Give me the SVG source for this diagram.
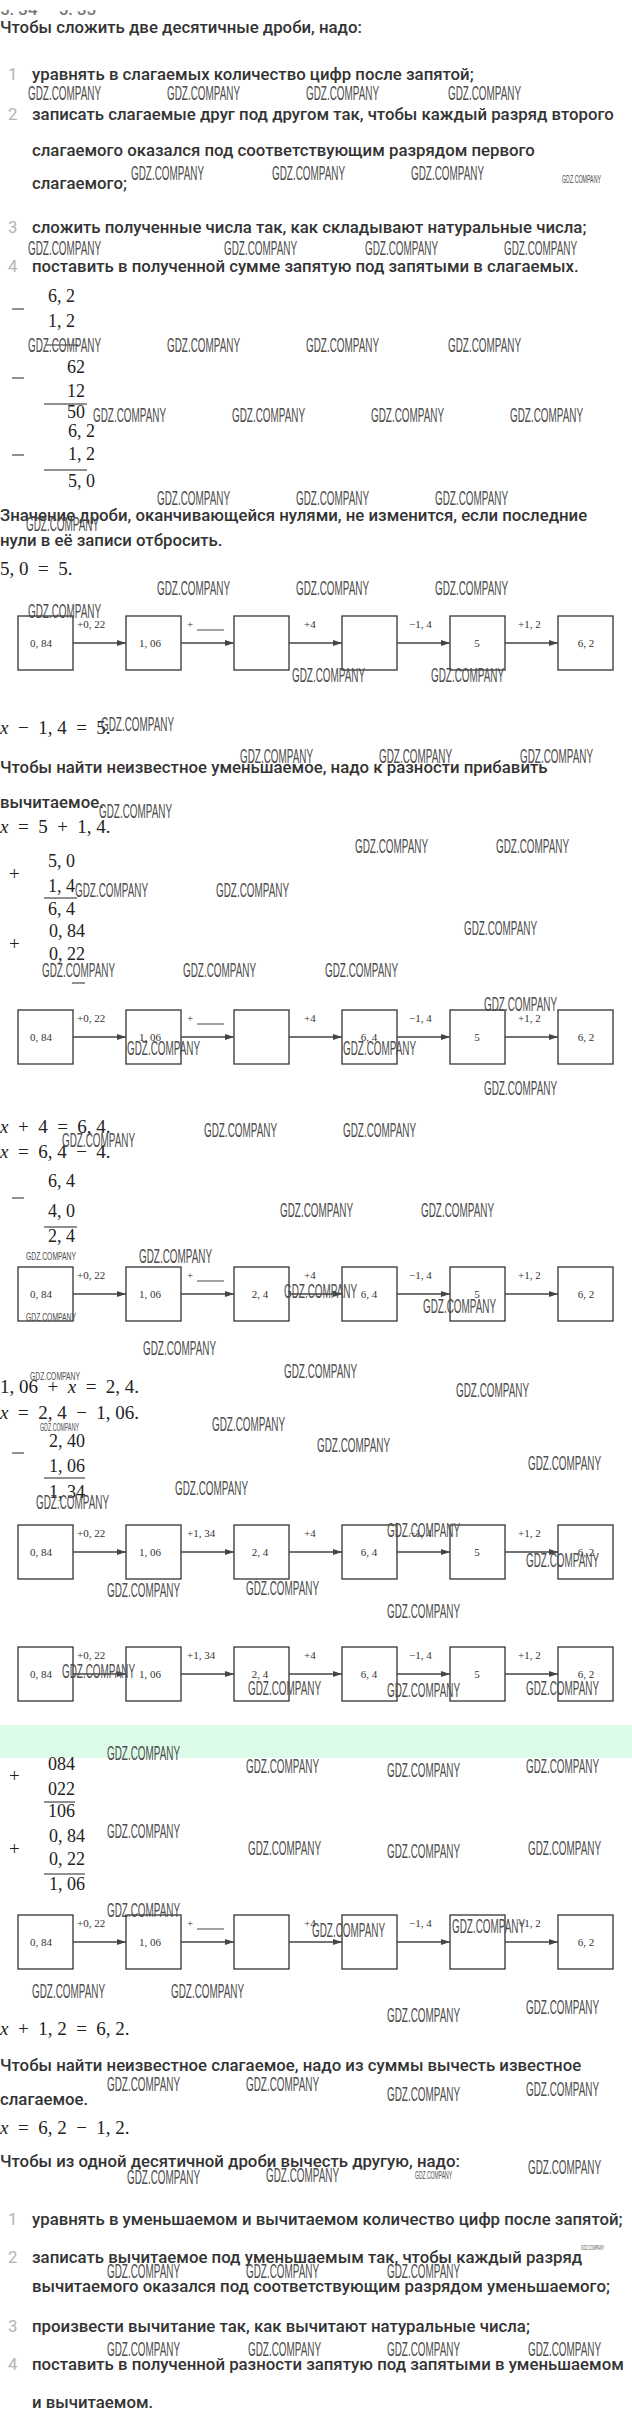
<svg xmlns="http://www.w3.org/2000/svg" width="632" height="2425" viewBox="0 0 632 2425">
<style>
.t{font-family:Roboto,"Liberation Sans",sans-serif;font-size:16.8px;font-weight:500;fill:#333}
.n{font-family:Roboto,"Liberation Sans",sans-serif;font-size:16.8px;fill:#b3b3b3}
.m{font-family:"Liberation Serif",serif;font-size:19px;fill:#222}
.mi{font-style:italic}
.c{font-family:"Liberation Serif",serif;font-size:18px;fill:#222;text-anchor:end}
.wm{font-family:"Liberation Sans Narrow","Liberation Sans",sans-serif;font-size:20px;fill:#4d4d4d}
.wms{font-family:"Liberation Sans Narrow","Liberation Sans",sans-serif;font-size:10px;fill:#4d4d4d}
.box{fill:#fff;stroke:#333;stroke-width:1.3}
.nt{font-family:"Liberation Serif",serif;font-size:11px;fill:#333;text-anchor:middle}
.el{font-family:"Liberation Serif",serif;font-size:11px;fill:#333}
.ar{stroke:#444;stroke-width:1.3;fill:none;marker-end:url(#ah)}
.bar{stroke:#222;stroke-width:1}
.ul{stroke:#333;stroke-width:0.9}
</style>
<defs>
<marker id="ah" markerWidth="9" markerHeight="6" refX="9" refY="3" orient="auto" markerUnits="userSpaceOnUse"><path d="M0,0 L9,3 L0,6 z" fill="#444"/></marker>
<clipPath id="topclip"><rect x="0" y="10" width="200" height="8"/></clipPath>
</defs>
<rect x="0" y="0" width="632" height="2425" fill="#fff"/>
<rect x="0" y="1725" width="632" height="33" fill="#dcfce9"/>

<g id="text">
<text class="t" x="0" y="15" clip-path="url(#topclip)" style="fill:#777">5. 34 — 5. 33</text>
<text class="t" x="0" y="33">Чтобы сложить две десятичные дроби, надо:</text>
<text class="n" x="8" y="80">1</text><text class="t" x="32" y="80">уравнять в слагаемых количество цифр после запятой;</text>
<text class="n" x="8" y="120">2</text><text class="t" x="32" y="120">записать слагаемые друг под другом так, чтобы каждый разряд второго</text>
<text class="t" x="32" y="156">слагаемого оказался под соответствующим разрядом первого</text>
<text class="t" x="32" y="189">слагаемого;</text>
<text class="n" x="8" y="233">3</text><text class="t" x="32" y="233">сложить полученные числа так, как складывают натуральные числа;</text>
<text class="n" x="8" y="272">4</text><text class="t" x="32" y="272">поставить в полученной сумме запятую под запятыми в слагаемых.</text>
<text class="t" x="0" y="521">Значение дроби, оканчивающейся нулями, не изменится, если последние</text>
<text class="t" x="0" y="546">нули в её записи отбросить.</text>
<text class="t" x="0" y="773">Чтобы найти неизвестное уменьшаемое, надо к разности прибавить</text>
<text class="t" x="0" y="808">вычитаемое.</text>
<text class="t" x="0" y="2071">Чтобы найти неизвестное слагаемое, надо из суммы вычесть известное</text>
<text class="t" x="0" y="2105">слагаемое.</text>
<text class="t" x="0" y="2167">Чтобы из одной десятичной дроби вычесть другую, надо:</text>
<text class="n" x="8" y="2225">1</text><text class="t" x="32" y="2225">уравнять в уменьшаемом и вычитаемом количество цифр после запятой;</text>
<text class="n" x="8" y="2263">2</text><text class="t" x="32" y="2263">записать вычитаемое под уменьшаемым так, чтобы каждый разряд</text>
<text class="t" x="32" y="2292">вычитаемого оказался под соответствующим разрядом уменьшаемого;</text>
<text class="n" x="8" y="2332">3</text><text class="t" x="32" y="2332">произвести вычитание так, как вычитают натуральные числа;</text>
<text class="n" x="8" y="2370">4</text><text class="t" x="32" y="2370">поставить в полученной разности запятую под запятыми в уменьшаемом</text>
<text class="t" x="32" y="2408">и вычитаемом.</text>
</g>

<g id="equations">
<text class="m" x="0" y="575">5, 0&#8194;=&#8194;5.</text>
<text class="m" x="0" y="734"><tspan class="mi">x</tspan>&#8194;−&#8194;1, 4&#8194;=&#8194;5.</text>
<text class="m" x="0" y="833"><tspan class="mi">x</tspan>&#8194;=&#8194;5&#8194;+&#8194;1, 4.</text>
<text class="m" x="0" y="1133"><tspan class="mi">x</tspan>&#8194;+&#8194;4&#8194;=&#8194;6, 4.</text>
<text class="m" x="0" y="1158"><tspan class="mi">x</tspan>&#8194;=&#8194;6, 4&#8194;−&#8194;4.</text>
<text class="m" x="0" y="1393">1, 06&#8194;+&#8194;<tspan class="mi">x</tspan>&#8194;=&#8194;2, 4.</text>
<text class="m" x="0" y="1419"><tspan class="mi">x</tspan>&#8194;=&#8194;2, 4&#8194;−&#8194;1, 06.</text>
<text class="m" x="0" y="2035"><tspan class="mi">x</tspan>&#8194;+&#8194;1, 2&#8194;=&#8194;6, 2.</text>
<text class="m" x="0" y="2134"><tspan class="mi">x</tspan>&#8194;=&#8194;6, 2&#8194;−&#8194;1, 2.</text>
</g>

<g id="columns">
<text class="c" x="75" y="302">6, 2</text><line class="bar" x1="12" y1="309" x2="24" y2="309"/><text class="c" x="75" y="327">1, 2</text><line class="bar" x1="46" y1="345" x2="78" y2="345"/>
<text class="c" x="85" y="373">62</text><line class="bar" x1="12" y1="378" x2="24" y2="378"/><text class="c" x="85" y="397">12</text><line class="bar" x1="44" y1="404" x2="87" y2="404"/><text class="c" x="85" y="418">50</text>
<text class="c" x="95" y="437">6, 2</text><line class="bar" x1="12" y1="455" x2="24" y2="455"/><text class="c" x="95" y="460">1, 2</text><line class="bar" x1="44" y1="470" x2="87" y2="470"/><text class="c" x="95" y="487">5, 0</text>
<text class="c" x="75" y="867">5, 0</text><text class="m" x="9" y="880">+</text><text class="c" x="75" y="892">1, 4</text><line class="bar" x1="44" y1="898" x2="77" y2="898"/><text class="c" x="75" y="915">6, 4</text>
<text class="c" x="85" y="937">0, 84</text><text class="m" x="9" y="950">+</text><text class="c" x="85" y="960">0, 22</text><line class="bar" x1="72" y1="983" x2="85" y2="983"/>
<text class="c" x="75" y="1187">6, 4</text><line class="bar" x1="12" y1="1198" x2="24" y2="1198"/><text class="c" x="75" y="1217">4, 0</text><line class="bar" x1="44" y1="1227" x2="77" y2="1227"/><text class="c" x="75" y="1242">2, 4</text>
<text class="c" x="85" y="1447">2, 40</text><line class="bar" x1="12" y1="1453" x2="24" y2="1453"/><text class="c" x="85" y="1472">1, 06</text><line class="bar" x1="44" y1="1478" x2="85" y2="1478"/><text class="c" x="85" y="1498">1, 34</text>
<text class="c" x="75" y="1770">084</text><text class="m" x="9" y="1782">+</text><text class="c" x="75" y="1795">022</text><line class="bar" x1="44" y1="1802" x2="75" y2="1802"/><text class="c" x="75" y="1817">106</text>
<text class="c" x="85" y="1842">0, 84</text><text class="m" x="9" y="1855">+</text><text class="c" x="85" y="1865">0, 22</text><line class="bar" x1="44" y1="1874" x2="85" y2="1874"/><text class="c" x="85" y="1890">1, 06</text>
</g>

<g id="d1">
<g id="d1-n1"><rect class="box" x="18" y="616" width="55" height="54"/><text class="nt" x="41" y="647">0, 84</text></g>
<g id="d1-n2"><rect class="box" x="126" y="616" width="55" height="54"/><text class="nt" x="150" y="647">1, 06</text></g>
<g id="d1-n3"><rect class="box" x="234" y="616" width="55" height="54"/></g>
<g id="d1-n4"><rect class="box" x="342" y="616" width="55" height="54"/></g>
<g id="d1-n5"><rect class="box" x="450" y="616" width="55" height="54"/><text class="nt" x="477" y="647">5</text></g>
<g id="d1-n6"><rect class="box" x="558" y="616" width="55" height="54"/><text class="nt" x="586" y="647">6, 2</text></g>
<g id="d1-edges">
<line class="ar" x1="73" y1="643" x2="126" y2="643"/><line class="ar" x1="181" y1="643" x2="234" y2="643"/><line class="ar" x1="289" y1="643" x2="342" y2="643"/><line class="ar" x1="397" y1="643" x2="450" y2="643"/><line class="ar" x1="505" y1="643" x2="558" y2="643"/>
<text class="el" x="77" y="628">+0, 22</text><text class="el" x="187" y="628">+</text><line class="ul" x1="197" y1="630" x2="224" y2="630"/><text class="el" x="304" y="628">+4</text><text class="el" x="409" y="628">−1, 4</text><text class="el" x="518" y="628">+1, 2</text>
</g>
</g>

<g id="d2">
<g id="d2-n1"><rect class="box" x="18" y="1010" width="55" height="54"/><text class="nt" x="41" y="1041">0, 84</text></g>
<g id="d2-n2"><rect class="box" x="126" y="1010" width="55" height="54"/><text class="nt" x="150" y="1041">1, 06</text></g>
<g id="d2-n3"><rect class="box" x="234" y="1010" width="55" height="54"/></g>
<g id="d2-n4"><rect class="box" x="342" y="1010" width="55" height="54"/><text class="nt" x="369" y="1041">6, 4</text></g>
<g id="d2-n5"><rect class="box" x="450" y="1010" width="55" height="54"/><text class="nt" x="477" y="1041">5</text></g>
<g id="d2-n6"><rect class="box" x="558" y="1010" width="55" height="54"/><text class="nt" x="586" y="1041">6, 2</text></g>
<g id="d2-edges">
<line class="ar" x1="73" y1="1037" x2="126" y2="1037"/><line class="ar" x1="181" y1="1037" x2="234" y2="1037"/><line class="ar" x1="289" y1="1037" x2="342" y2="1037"/><line class="ar" x1="397" y1="1037" x2="450" y2="1037"/><line class="ar" x1="505" y1="1037" x2="558" y2="1037"/>
<text class="el" x="77" y="1022">+0, 22</text><text class="el" x="187" y="1022">+</text><line class="ul" x1="197" y1="1024" x2="224" y2="1024"/><text class="el" x="304" y="1022">+4</text><text class="el" x="409" y="1022">−1, 4</text><text class="el" x="518" y="1022">+1, 2</text>
</g>
</g>

<g id="d3">
<g id="d3-n1"><rect class="box" x="18" y="1267" width="55" height="54"/><text class="nt" x="41" y="1298">0, 84</text></g>
<g id="d3-n2"><rect class="box" x="126" y="1267" width="55" height="54"/><text class="nt" x="150" y="1298">1, 06</text></g>
<g id="d3-n3"><rect class="box" x="234" y="1267" width="55" height="54"/><text class="nt" x="260" y="1298">2, 4</text></g>
<g id="d3-n4"><rect class="box" x="342" y="1267" width="55" height="54"/><text class="nt" x="369" y="1298">6, 4</text></g>
<g id="d3-n5"><rect class="box" x="450" y="1267" width="55" height="54"/><text class="nt" x="477" y="1298">5</text></g>
<g id="d3-n6"><rect class="box" x="558" y="1267" width="55" height="54"/><text class="nt" x="586" y="1298">6, 2</text></g>
<g id="d3-edges">
<line class="ar" x1="73" y1="1294" x2="126" y2="1294"/><line class="ar" x1="181" y1="1294" x2="234" y2="1294"/><line class="ar" x1="289" y1="1294" x2="342" y2="1294"/><line class="ar" x1="397" y1="1294" x2="450" y2="1294"/><line class="ar" x1="505" y1="1294" x2="558" y2="1294"/>
<text class="el" x="77" y="1279">+0, 22</text><text class="el" x="187" y="1279">+</text><line class="ul" x1="197" y1="1281" x2="224" y2="1281"/><text class="el" x="304" y="1279">+4</text><text class="el" x="409" y="1279">−1, 4</text><text class="el" x="518" y="1279">+1, 2</text>
</g>
</g>

<g id="d4">
<g id="d4-n1"><rect class="box" x="18" y="1525" width="55" height="54"/><text class="nt" x="41" y="1556">0, 84</text></g>
<g id="d4-n2"><rect class="box" x="126" y="1525" width="55" height="54"/><text class="nt" x="150" y="1556">1, 06</text></g>
<g id="d4-n3"><rect class="box" x="234" y="1525" width="55" height="54"/><text class="nt" x="260" y="1556">2, 4</text></g>
<g id="d4-n4"><rect class="box" x="342" y="1525" width="55" height="54"/><text class="nt" x="369" y="1556">6, 4</text></g>
<g id="d4-n5"><rect class="box" x="450" y="1525" width="55" height="54"/><text class="nt" x="477" y="1556">5</text></g>
<g id="d4-n6"><rect class="box" x="558" y="1525" width="55" height="54"/><text class="nt" x="586" y="1556">6, 2</text></g>
<g id="d4-edges">
<line class="ar" x1="73" y1="1552" x2="126" y2="1552"/><line class="ar" x1="181" y1="1552" x2="234" y2="1552"/><line class="ar" x1="289" y1="1552" x2="342" y2="1552"/><line class="ar" x1="397" y1="1552" x2="450" y2="1552"/><line class="ar" x1="505" y1="1552" x2="558" y2="1552"/>
<text class="el" x="77" y="1537">+0, 22</text><text class="el" x="187" y="1537">+1, 34</text><text class="el" x="304" y="1537">+4</text><text class="el" x="409" y="1537">−1, 4</text><text class="el" x="518" y="1537">+1, 2</text>
</g>
</g>

<g id="d5">
<g id="d5-n1"><rect class="box" x="18" y="1647" width="55" height="54"/><text class="nt" x="41" y="1678">0, 84</text></g>
<g id="d5-n2"><rect class="box" x="126" y="1647" width="55" height="54"/><text class="nt" x="150" y="1678">1, 06</text></g>
<g id="d5-n3"><rect class="box" x="234" y="1647" width="55" height="54"/><text class="nt" x="260" y="1678">2, 4</text></g>
<g id="d5-n4"><rect class="box" x="342" y="1647" width="55" height="54"/><text class="nt" x="369" y="1678">6, 4</text></g>
<g id="d5-n5"><rect class="box" x="450" y="1647" width="55" height="54"/><text class="nt" x="477" y="1678">5</text></g>
<g id="d5-n6"><rect class="box" x="558" y="1647" width="55" height="54"/><text class="nt" x="586" y="1678">6, 2</text></g>
<g id="d5-edges">
<line class="ar" x1="73" y1="1674" x2="126" y2="1674"/><line class="ar" x1="181" y1="1674" x2="234" y2="1674"/><line class="ar" x1="289" y1="1674" x2="342" y2="1674"/><line class="ar" x1="397" y1="1674" x2="450" y2="1674"/><line class="ar" x1="505" y1="1674" x2="558" y2="1674"/>
<text class="el" x="77" y="1659">+0, 22</text><text class="el" x="187" y="1659">+1, 34</text><text class="el" x="304" y="1659">+4</text><text class="el" x="409" y="1659">−1, 4</text><text class="el" x="518" y="1659">+1, 2</text>
</g>
</g>

<g id="d6">
<g id="d6-n1"><rect class="box" x="18" y="1915" width="55" height="54"/><text class="nt" x="41" y="1946">0, 84</text></g>
<g id="d6-n2"><rect class="box" x="126" y="1915" width="55" height="54"/><text class="nt" x="150" y="1946">1, 06</text></g>
<g id="d6-n3"><rect class="box" x="234" y="1915" width="55" height="54"/></g>
<g id="d6-n4"><rect class="box" x="342" y="1915" width="55" height="54"/></g>
<g id="d6-n5"><rect class="box" x="450" y="1915" width="55" height="54"/></g>
<g id="d6-n6"><rect class="box" x="558" y="1915" width="55" height="54"/><text class="nt" x="586" y="1946">6, 2</text></g>
<g id="d6-edges">
<line class="ar" x1="73" y1="1942" x2="126" y2="1942"/><line class="ar" x1="181" y1="1942" x2="234" y2="1942"/><line class="ar" x1="289" y1="1942" x2="342" y2="1942"/><line class="ar" x1="397" y1="1942" x2="450" y2="1942"/><line class="ar" x1="505" y1="1942" x2="558" y2="1942"/>
<text class="el" x="77" y="1927">+0, 22</text><text class="el" x="187" y="1927">+</text><line class="ul" x1="197" y1="1929" x2="224" y2="1929"/><text class="el" x="304" y="1927">+4</text><text class="el" x="409" y="1927">−1, 4</text><text class="el" x="518" y="1927">+1, 2</text>
</g>
</g>

<g id="watermarks">
<text class="wm" x="28" y="100" textLength="73" lengthAdjust="spacingAndGlyphs">GDZ.COMPANY</text>
<text class="wm" x="167" y="100" textLength="73" lengthAdjust="spacingAndGlyphs">GDZ.COMPANY</text>
<text class="wm" x="306" y="100" textLength="73" lengthAdjust="spacingAndGlyphs">GDZ.COMPANY</text>
<text class="wm" x="448" y="100" textLength="73" lengthAdjust="spacingAndGlyphs">GDZ.COMPANY</text>
<text class="wm" x="131" y="180" textLength="73" lengthAdjust="spacingAndGlyphs">GDZ.COMPANY</text>
<text class="wm" x="272" y="180" textLength="73" lengthAdjust="spacingAndGlyphs">GDZ.COMPANY</text>
<text class="wm" x="411" y="180" textLength="73" lengthAdjust="spacingAndGlyphs">GDZ.COMPANY</text>
<text class="wms" x="562" y="183" textLength="39" lengthAdjust="spacingAndGlyphs">GDZ.COMPANY</text>
<text class="wm" x="28" y="255" textLength="73" lengthAdjust="spacingAndGlyphs">GDZ.COMPANY</text>
<text class="wm" x="224" y="255" textLength="73" lengthAdjust="spacingAndGlyphs">GDZ.COMPANY</text>
<text class="wm" x="365" y="255" textLength="73" lengthAdjust="spacingAndGlyphs">GDZ.COMPANY</text>
<text class="wm" x="504" y="255" textLength="73" lengthAdjust="spacingAndGlyphs">GDZ.COMPANY</text>
<text class="wm" x="28" y="352" textLength="73" lengthAdjust="spacingAndGlyphs">GDZ.COMPANY</text>
<text class="wm" x="167" y="352" textLength="73" lengthAdjust="spacingAndGlyphs">GDZ.COMPANY</text>
<text class="wm" x="306" y="352" textLength="73" lengthAdjust="spacingAndGlyphs">GDZ.COMPANY</text>
<text class="wm" x="448" y="352" textLength="73" lengthAdjust="spacingAndGlyphs">GDZ.COMPANY</text>
<text class="wm" x="93" y="422" textLength="73" lengthAdjust="spacingAndGlyphs">GDZ.COMPANY</text>
<text class="wm" x="232" y="422" textLength="73" lengthAdjust="spacingAndGlyphs">GDZ.COMPANY</text>
<text class="wm" x="371" y="422" textLength="73" lengthAdjust="spacingAndGlyphs">GDZ.COMPANY</text>
<text class="wm" x="510" y="422" textLength="73" lengthAdjust="spacingAndGlyphs">GDZ.COMPANY</text>
<text class="wm" x="157" y="505" textLength="73" lengthAdjust="spacingAndGlyphs">GDZ.COMPANY</text>
<text class="wm" x="296" y="505" textLength="73" lengthAdjust="spacingAndGlyphs">GDZ.COMPANY</text>
<text class="wm" x="435" y="505" textLength="73" lengthAdjust="spacingAndGlyphs">GDZ.COMPANY</text>
<text class="wm" x="26" y="531" textLength="73" lengthAdjust="spacingAndGlyphs">GDZ.COMPANY</text>
<text class="wm" x="157" y="595" textLength="73" lengthAdjust="spacingAndGlyphs">GDZ.COMPANY</text>
<text class="wm" x="296" y="595" textLength="73" lengthAdjust="spacingAndGlyphs">GDZ.COMPANY</text>
<text class="wm" x="435" y="595" textLength="73" lengthAdjust="spacingAndGlyphs">GDZ.COMPANY</text>
<text class="wm" x="28" y="618" textLength="73" lengthAdjust="spacingAndGlyphs">GDZ.COMPANY</text>
<text class="wm" x="292" y="682" textLength="73" lengthAdjust="spacingAndGlyphs">GDZ.COMPANY</text>
<text class="wm" x="431" y="682" textLength="73" lengthAdjust="spacingAndGlyphs">GDZ.COMPANY</text>
<text class="wm" x="101" y="731" textLength="73" lengthAdjust="spacingAndGlyphs">GDZ.COMPANY</text>
<text class="wm" x="240" y="763" textLength="73" lengthAdjust="spacingAndGlyphs">GDZ.COMPANY</text>
<text class="wm" x="379" y="763" textLength="73" lengthAdjust="spacingAndGlyphs">GDZ.COMPANY</text>
<text class="wm" x="520" y="763" textLength="73" lengthAdjust="spacingAndGlyphs">GDZ.COMPANY</text>
<text class="wm" x="99" y="818" textLength="73" lengthAdjust="spacingAndGlyphs">GDZ.COMPANY</text>
<text class="wm" x="355" y="853" textLength="73" lengthAdjust="spacingAndGlyphs">GDZ.COMPANY</text>
<text class="wm" x="496" y="853" textLength="73" lengthAdjust="spacingAndGlyphs">GDZ.COMPANY</text>
<text class="wm" x="75" y="897" textLength="73" lengthAdjust="spacingAndGlyphs">GDZ.COMPANY</text>
<text class="wm" x="216" y="897" textLength="73" lengthAdjust="spacingAndGlyphs">GDZ.COMPANY</text>
<text class="wm" x="464" y="935" textLength="73" lengthAdjust="spacingAndGlyphs">GDZ.COMPANY</text>
<text class="wm" x="42" y="977" textLength="73" lengthAdjust="spacingAndGlyphs">GDZ.COMPANY</text>
<text class="wm" x="183" y="977" textLength="73" lengthAdjust="spacingAndGlyphs">GDZ.COMPANY</text>
<text class="wm" x="325" y="977" textLength="73" lengthAdjust="spacingAndGlyphs">GDZ.COMPANY</text>
<text class="wm" x="484" y="1011" textLength="73" lengthAdjust="spacingAndGlyphs">GDZ.COMPANY</text>
<text class="wm" x="127" y="1055" textLength="73" lengthAdjust="spacingAndGlyphs">GDZ.COMPANY</text>
<text class="wm" x="343" y="1055" textLength="73" lengthAdjust="spacingAndGlyphs">GDZ.COMPANY</text>
<text class="wm" x="484" y="1095" textLength="73" lengthAdjust="spacingAndGlyphs">GDZ.COMPANY</text>
<text class="wm" x="204" y="1137" textLength="73" lengthAdjust="spacingAndGlyphs">GDZ.COMPANY</text>
<text class="wm" x="343" y="1137" textLength="73" lengthAdjust="spacingAndGlyphs">GDZ.COMPANY</text>
<text class="wm" x="62" y="1147" textLength="73" lengthAdjust="spacingAndGlyphs">GDZ.COMPANY</text>
<text class="wm" x="280" y="1217" textLength="73" lengthAdjust="spacingAndGlyphs">GDZ.COMPANY</text>
<text class="wm" x="421" y="1217" textLength="73" lengthAdjust="spacingAndGlyphs">GDZ.COMPANY</text>
<text class="wms" x="26" y="1260" textLength="50" lengthAdjust="spacingAndGlyphs">GDZ.COMPANY</text>
<text class="wm" x="139" y="1263" textLength="73" lengthAdjust="spacingAndGlyphs">GDZ.COMPANY</text>
<text class="wm" x="284" y="1298" textLength="73" lengthAdjust="spacingAndGlyphs">GDZ.COMPANY</text>
<text class="wms" x="26" y="1321" textLength="50" lengthAdjust="spacingAndGlyphs">GDZ.COMPANY</text>
<text class="wm" x="423" y="1313" textLength="73" lengthAdjust="spacingAndGlyphs">GDZ.COMPANY</text>
<text class="wm" x="143" y="1355" textLength="73" lengthAdjust="spacingAndGlyphs">GDZ.COMPANY</text>
<text class="wms" x="30" y="1380" textLength="50" lengthAdjust="spacingAndGlyphs">GDZ.COMPANY</text>
<text class="wm" x="284" y="1378" textLength="73" lengthAdjust="spacingAndGlyphs">GDZ.COMPANY</text>
<text class="wm" x="456" y="1397" textLength="73" lengthAdjust="spacingAndGlyphs">GDZ.COMPANY</text>
<text class="wms" x="40" y="1431" textLength="39" lengthAdjust="spacingAndGlyphs">GDZ.COMPANY</text>
<text class="wm" x="212" y="1431" textLength="73" lengthAdjust="spacingAndGlyphs">GDZ.COMPANY</text>
<text class="wm" x="317" y="1452" textLength="73" lengthAdjust="spacingAndGlyphs">GDZ.COMPANY</text>
<text class="wm" x="528" y="1470" textLength="73" lengthAdjust="spacingAndGlyphs">GDZ.COMPANY</text>
<text class="wm" x="36" y="1509" textLength="73" lengthAdjust="spacingAndGlyphs">GDZ.COMPANY</text>
<text class="wm" x="175" y="1495" textLength="73" lengthAdjust="spacingAndGlyphs">GDZ.COMPANY</text>
<text class="wm" x="387" y="1537" textLength="73" lengthAdjust="spacingAndGlyphs">GDZ.COMPANY</text>
<text class="wm" x="526" y="1567" textLength="73" lengthAdjust="spacingAndGlyphs">GDZ.COMPANY</text>
<text class="wm" x="107" y="1597" textLength="73" lengthAdjust="spacingAndGlyphs">GDZ.COMPANY</text>
<text class="wm" x="246" y="1595" textLength="73" lengthAdjust="spacingAndGlyphs">GDZ.COMPANY</text>
<text class="wm" x="387" y="1618" textLength="73" lengthAdjust="spacingAndGlyphs">GDZ.COMPANY</text>
<text class="wm" x="62" y="1678" textLength="73" lengthAdjust="spacingAndGlyphs">GDZ.COMPANY</text>
<text class="wm" x="248" y="1695" textLength="73" lengthAdjust="spacingAndGlyphs">GDZ.COMPANY</text>
<text class="wm" x="387" y="1697" textLength="73" lengthAdjust="spacingAndGlyphs">GDZ.COMPANY</text>
<text class="wm" x="526" y="1695" textLength="73" lengthAdjust="spacingAndGlyphs">GDZ.COMPANY</text>
<text class="wm" x="107" y="1760" textLength="73" lengthAdjust="spacingAndGlyphs">GDZ.COMPANY</text>
<text class="wm" x="246" y="1773" textLength="73" lengthAdjust="spacingAndGlyphs">GDZ.COMPANY</text>
<text class="wm" x="387" y="1777" textLength="73" lengthAdjust="spacingAndGlyphs">GDZ.COMPANY</text>
<text class="wm" x="526" y="1773" textLength="73" lengthAdjust="spacingAndGlyphs">GDZ.COMPANY</text>
<text class="wm" x="107" y="1838" textLength="73" lengthAdjust="spacingAndGlyphs">GDZ.COMPANY</text>
<text class="wm" x="248" y="1855" textLength="73" lengthAdjust="spacingAndGlyphs">GDZ.COMPANY</text>
<text class="wm" x="387" y="1858" textLength="73" lengthAdjust="spacingAndGlyphs">GDZ.COMPANY</text>
<text class="wm" x="528" y="1855" textLength="73" lengthAdjust="spacingAndGlyphs">GDZ.COMPANY</text>
<text class="wm" x="107" y="1917" textLength="73" lengthAdjust="spacingAndGlyphs">GDZ.COMPANY</text>
<text class="wm" x="312" y="1937" textLength="73" lengthAdjust="spacingAndGlyphs">GDZ.COMPANY</text>
<text class="wm" x="452" y="1933" textLength="73" lengthAdjust="spacingAndGlyphs">GDZ.COMPANY</text>
<text class="wm" x="32" y="1998" textLength="73" lengthAdjust="spacingAndGlyphs">GDZ.COMPANY</text>
<text class="wm" x="171" y="1998" textLength="73" lengthAdjust="spacingAndGlyphs">GDZ.COMPANY</text>
<text class="wm" x="387" y="2022" textLength="73" lengthAdjust="spacingAndGlyphs">GDZ.COMPANY</text>
<text class="wm" x="526" y="2014" textLength="73" lengthAdjust="spacingAndGlyphs">GDZ.COMPANY</text>
<text class="wm" x="107" y="2091" textLength="73" lengthAdjust="spacingAndGlyphs">GDZ.COMPANY</text>
<text class="wm" x="246" y="2091" textLength="73" lengthAdjust="spacingAndGlyphs">GDZ.COMPANY</text>
<text class="wm" x="387" y="2101" textLength="73" lengthAdjust="spacingAndGlyphs">GDZ.COMPANY</text>
<text class="wm" x="526" y="2096" textLength="73" lengthAdjust="spacingAndGlyphs">GDZ.COMPANY</text>
<text class="wm" x="528" y="2174" textLength="73" lengthAdjust="spacingAndGlyphs">GDZ.COMPANY</text>
<text class="wm" x="127" y="2184" textLength="73" lengthAdjust="spacingAndGlyphs">GDZ.COMPANY</text>
<text class="wm" x="266" y="2182" textLength="73" lengthAdjust="spacingAndGlyphs">GDZ.COMPANY</text>
<text class="wms" x="415" y="2179" textLength="37" lengthAdjust="spacingAndGlyphs">GDZ.COMPANY</text>
<text class="wms" x="581" y="2250" textLength="23" lengthAdjust="spacingAndGlyphs" style="font-size:7px">GDZ.COMPANY</text>
<text class="wm" x="107" y="2278" textLength="73" lengthAdjust="spacingAndGlyphs">GDZ.COMPANY</text>
<text class="wm" x="246" y="2278" textLength="73" lengthAdjust="spacingAndGlyphs">GDZ.COMPANY</text>
<text class="wm" x="387" y="2278" textLength="73" lengthAdjust="spacingAndGlyphs">GDZ.COMPANY</text>
<text class="wm" x="107" y="2356" textLength="73" lengthAdjust="spacingAndGlyphs">GDZ.COMPANY</text>
<text class="wm" x="248" y="2356" textLength="73" lengthAdjust="spacingAndGlyphs">GDZ.COMPANY</text>
<text class="wm" x="387" y="2356" textLength="73" lengthAdjust="spacingAndGlyphs">GDZ.COMPANY</text>
<text class="wm" x="528" y="2356" textLength="73" lengthAdjust="spacingAndGlyphs">GDZ.COMPANY</text>
</g>
</svg>
